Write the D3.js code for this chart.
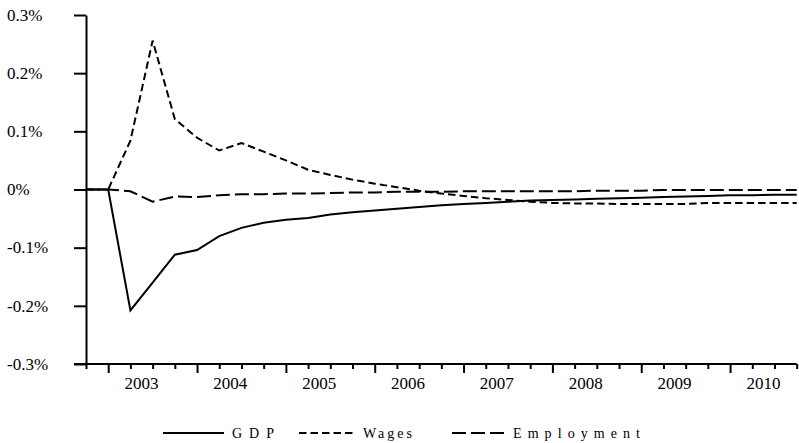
<!DOCTYPE html>
<html>
<head>
<meta charset="utf-8">
<script src="https://cdn.jsdelivr.net/npm/d3@7"></script>
<style>
  html, body { margin: 0; padding: 0; background: #fff; }
  svg { display: block; }
</style>
</head>
<body>
<svg id="chart" width="799" height="443"></svg>
<script>
// quarterly responses, index 0 = first quarter shown
const gdp = [0, 0, -0.208, -0.160, -0.112, -0.104, -0.080, -0.066, -0.057, -0.052, -0.049,
  -0.043, -0.039, -0.036, -0.033, -0.030, -0.027, -0.025, -0.023, -0.021, -0.019, -0.018,
  -0.017, -0.016, -0.015, -0.014, -0.013, -0.012, -0.011, -0.010, -0.010, -0.009, -0.009];
const wages = [0, 0, 0.084, 0.256, 0.121, 0.089, 0.067, 0.080, 0.065, 0.050, 0.034,
  0.025, 0.017, 0.010, 0.004, -0.002, -0.007, -0.011, -0.015, -0.018, -0.021, -0.023,
  -0.024, -0.024, -0.025, -0.025, -0.025, -0.025, -0.023, -0.023, -0.023, -0.023, -0.023];
const employment = [0, 0, -0.003, -0.021, -0.012, -0.013, -0.010, -0.008, -0.008, -0.007, -0.007,
  -0.006, -0.005, -0.005, -0.004, -0.004, -0.004, -0.003, -0.003, -0.003, -0.003, -0.003,
  -0.003, -0.002, -0.002, -0.002, -0.001, -0.001, -0.001, -0.001, -0.001, -0.001, -0.001];

const years = ["2003", "2004", "2005", "2006", "2007", "2008", "2009", "2010"];
const yTickValues = [-0.3, -0.2, -0.1, 0, 0.1, 0.2, 0.3];
const yTickLabels = ["-0.3%", "-0.2%", "-0.1%", "0%", "0.1%", "0.2%", "0.3%"];

const series = [
  { name: "GDP", values: gdp, dash: null, legendX: 163, legendW: 61, textLen: 42 },
  { name: "Wages", values: wages, dash: "7.5,4", legendX: 299, legendW: 56, textLen: 49 },
  { name: "Employment", values: employment, dash: "14,5", legendX: 452, legendW: 53, textLen: 127 },
];

const svg = d3.select("#chart");

const x = d3.scaleLinear().domain([0, gdp.length - 1]).range([86, 796.7]);
const y = d3.scaleLinear().domain([-0.3, 0.3]).range([364, 15]);

// y axis
const yAxis = svg.append("g")
  .attr("transform", `translate(${x(0)},0)`)
  .call(d3.axisLeft(y).tickValues(yTickValues).tickSize(12).tickSizeOuter(0).tickFormat(""));
yAxis.select(".domain").attr("stroke-width", 2);
yAxis.selectAll(".tick line").attr("stroke-width", 2);

svg.append("g")
  .selectAll("text")
  .data(yTickValues)
  .join("text")
  .style("font-family", "'Liberation Serif'")
  .style("font-size", "17px")
  .attr("x", 7)
  .attr("y", (d) => y(d))
  .attr("dy", "0.34em")
  .text((d, i) => yTickLabels[i]);

// x axis, quarterly ticks with longer year marks
const xAxis = svg.append("g")
  .attr("transform", `translate(0,${y(-0.3)})`)
  .call(d3.axisBottom(x).tickValues(d3.range(0, gdp.length)).tickSizeOuter(0).tickFormat(""));
xAxis.select(".domain").remove();
xAxis.selectAll(".tick line")
  .attr("stroke-width", 2)
  .attr("y2", (d) => ((d - 1) % 4 === 0 ? 9 : 5));
xAxis.append("line")
  .attr("x1", x(0) - 12)
  .attr("x2", x(gdp.length - 1))
  .attr("stroke", "#000")
  .attr("stroke-width", 2);

svg.append("g")
  .selectAll("text")
  .data(years)
  .join("text")
  .style("font-family", "'Liberation Serif'")
  .style("font-size", "17px")
  .attr("x", (d, i) => x(2.5 + i * 4))
  .attr("y", 389)
  .attr("text-anchor", "middle")
  .text((d) => d);

// lines
const line = d3.line()
  .x((d, i) => x(i))
  .y((d) => y(d));

svg.append("g")
  .selectAll("path")
  .data(series)
  .join("path")
  .attr("fill", "none")
  .attr("stroke", "#000")
  .attr("stroke-width", 2)
  .attr("stroke-dasharray", (d) => d.dash)
  .attr("d", (d) => line(d.values));

// legend
const legend = svg.append("g").selectAll("g").data(series).join("g");
legend.append("line")
  .attr("x1", (d) => d.legendX)
  .attr("x2", (d) => d.legendX + d.legendW)
  .attr("y1", 433)
  .attr("y2", 433)
  .attr("stroke", "#000")
  .attr("stroke-width", 2)
  .attr("stroke-dasharray", (d) => d.dash);
legend.append("text")
  .style("font-family", "'Liberation Serif'")
  .style("font-size", "14px")
  .attr("x", (d) => d.legendX + d.legendW + 8)
  .attr("y", 437.5)
  .attr("textLength", (d) => d.textLen)
  .attr("lengthAdjust", "spacing")
  .text((d) => d.name);
</script>
</body>
</html>
